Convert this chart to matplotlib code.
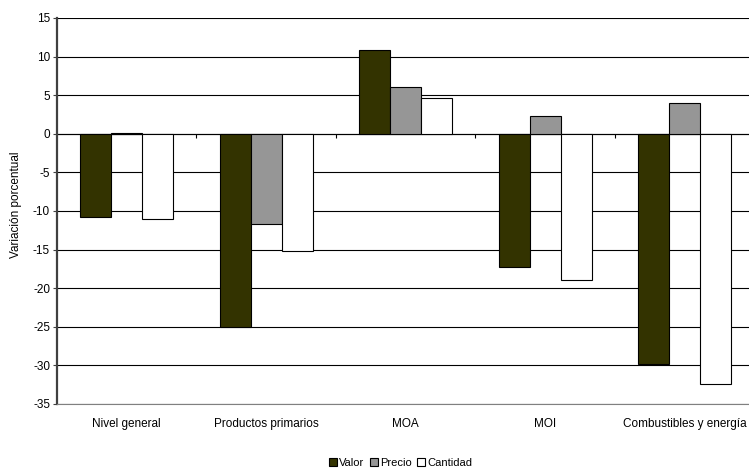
import numpy as np
import matplotlib.pyplot as plt
from matplotlib.patches import Patch

plt.rcParams['font.family'] = ['Liberation Sans', 'DejaVu Sans']
plt.rcParams['axes.unicode_minus'] = False

categorias = ['Nivel general', 'Productos primarios', 'MOA', 'MOI', 'Combustibles y energía']
valor = [-10.8, -25.0, 10.8, -17.3, -29.8]
precio = [0.1, -11.7, 6.0, 2.3, 4.0]
cantidad = [-11.0, -15.2, 4.7, -19.0, -32.4]

series = [('Valor', valor, '#333300'), ('Precio', precio, '#969696'), ('Cantidad', cantidad, '#ffffff')]

fig = plt.figure(figsize=(7.49, 4.70), dpi=100)
# plot area runs past the right edge, as in the original
ax = fig.add_axes([57 / 749, 1 - 404 / 470, 697.5 / 749, 386 / 470])

x = np.arange(len(categorias))
w = 0.222
for i, (nombre, vals, col) in enumerate(series):
    ax.bar(x + (i - 1) * w, vals, w, color=col, edgecolor='black', linewidth=0.8,
           label=nombre, zorder=3)

ax.set_xlim(-0.5, len(categorias) - 0.5)
ax.set_ylim(-35, 15)
ax.set_yticks(np.arange(-35, 16, 5))
ax.yaxis.grid(True, color='black', linewidth=0.8, zorder=0)
ax.set_axisbelow(True)

ax.set_xticks(x)
ax.set_xticklabels(categorias, fontsize=8.5)
ax.tick_params(axis='x', length=0, pad=10)
ax.tick_params(axis='y', labelsize=8.5, length=3, width=0.8, color='#404040', pad=2)

for s in ['top', 'right']:
    ax.spines[s].set_visible(False)
ax.spines['left'].set_color('#404040')
ax.spines['left'].set_linewidth(1.6)
ax.spines['bottom'].set_color('#808080')
ax.spines['bottom'].set_linewidth(0.8)

# category axis crossing at zero with tick marks between groups
sec = ax.secondary_xaxis(35 / 50)
sec.xaxis.set_ticks_position('bottom')
sec.set_xticks(x[:-1] + 0.5)
sec.set_xticklabels([])
sec.tick_params(direction='out', length=3, width=0.8, color='black')
for s in sec.spines.values():
    s.set_linewidth(0.8)

ax.set_ylabel('Variación porcentual', fontsize=8.5)
ax.yaxis.set_label_coords(-0.05, 0.516)

handles = [Patch(facecolor=c, edgecolor='black', linewidth=0.8, label=n) for n, _, c in series]
fig.legend(handles=handles, loc='center', bbox_to_anchor=(0.535, 0.015), ncol=3,
           frameon=False, fontsize=8, handlelength=0.7, handleheight=0.7,
           handletextpad=0.2, columnspacing=0.5, borderpad=0)

fig.savefig('out.png', dpi=100)
